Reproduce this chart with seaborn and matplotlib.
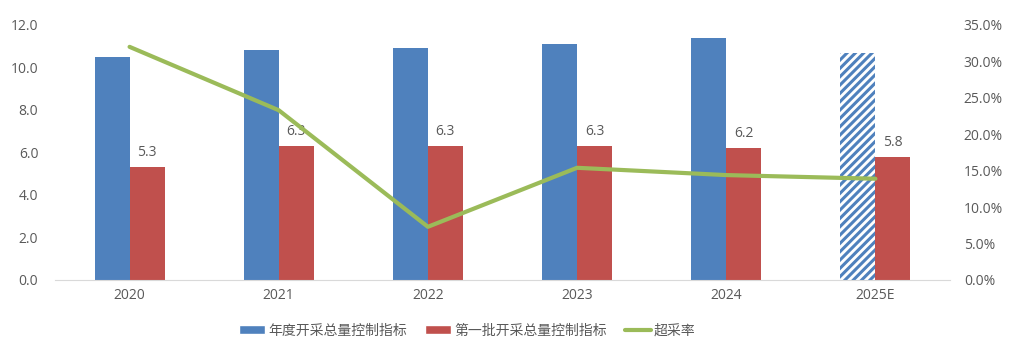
import pandas as pd
import seaborn as sns
import matplotlib.pyplot as plt
from matplotlib.ticker import FuncFormatter
from matplotlib.lines import Line2D
from matplotlib.patches import Patch

years = ['2020', '2021', '2022', '2023', '2024', '2025E']
annual_quota = [10.5, 10.8, 10.9, 11.1, 11.4, 10.7]
first_batch = [5.3, 6.3, 6.3, 6.3, 6.2, 5.8]
over_rate = [0.320, 0.233, 0.073, 0.154, 0.144, 0.139]

name_annual = '年度开采总量控制指标'
name_first = '第一批开采总量控制指标'
name_rate = '超采率'

blue = '#4F81BD'
red = '#C0504D'
green = '#9BBB59'
grey = '#595959'

bars = pd.DataFrame({
    'year': years * 2,
    'value': annual_quota + first_batch,
    'series': [name_annual] * len(years) + [name_first] * len(years),
})
line = pd.DataFrame({'year': years, 'rate': over_rate})

sns.set_style('white')
plt.rcParams['font.family'] = ['Open Sans', 'Noto Sans CJK SC', 'DejaVu Sans']
plt.rcParams['hatch.linewidth'] = 2.2
plt.rcParams['hatch.color'] = blue

fig = plt.figure(figsize=(10.09, 3.51), dpi=100)
ax = fig.add_axes([0.0545, 0.2023, 0.887, 0.7265])

sns.barplot(data=bars, x='year', y='value', hue='series',
            palette=[blue, red], width=0.47, gap=0, saturation=1,
            linewidth=0, ax=ax, legend=False)

# forecast bar for 2025E: hatched
blue_bars = ax.containers[0]
last = blue_bars.patches[-1]
last.set_facecolor('white')
last.set_edgecolor(blue)
last.set_linewidth(0)
last.set_hatch('////')

# labels on the red bars
ax.bar_label(ax.containers[1], fmt='%.1f', padding=5, color=grey, fontsize=10)

ax.set_ylim(0, 12)
ax.set_yticks([0, 2, 4, 6, 8, 10, 12])
ax.yaxis.set_major_formatter(FuncFormatter(lambda v, p: f'{v:.1f}'))
ax.set_xlim(-0.5, len(years) - 0.5)
ax.set_xlabel('')
ax.set_ylabel('')
ax.tick_params(axis='both', length=0, colors=grey, labelsize=10)
ax.tick_params(axis='x', pad=6)
ax.tick_params(axis='y', pad=12)
for s in ['top', 'left', 'right']:
    ax.spines[s].set_visible(False)
ax.spines['bottom'].set_color('#D9D9D9')

ax2 = ax.twinx()
sns.lineplot(data=line, x='year', y='rate', color=green, linewidth=3, ax=ax2)
ax2.set_ylim(0, 0.35)
ax2.set_yticks([0, 0.05, 0.10, 0.15, 0.20, 0.25, 0.30, 0.35])
ax2.yaxis.set_major_formatter(FuncFormatter(lambda v, p: f'{v * 100:.1f}%'))
ax2.set_ylabel('')
ax2.tick_params(axis='y', length=0, colors=grey, labelsize=10, pad=10)
for s in ['top', 'left', 'right', 'bottom']:
    ax2.spines[s].set_visible(False)

handles = [Patch(facecolor=blue, label=name_annual),
           Patch(facecolor=red, label=name_first),
           Line2D([0], [0], color=green, linewidth=3, label=name_rate)]
fig.legend(handles=handles, loc='center', bbox_to_anchor=(0.463, 0.057), ncol=3,
           frameon=False, fontsize=10, handlelength=1.9, handleheight=0.6,
           columnspacing=1.3, handletextpad=0.2, labelcolor=grey)

fig.savefig('out.png', dpi=100)
